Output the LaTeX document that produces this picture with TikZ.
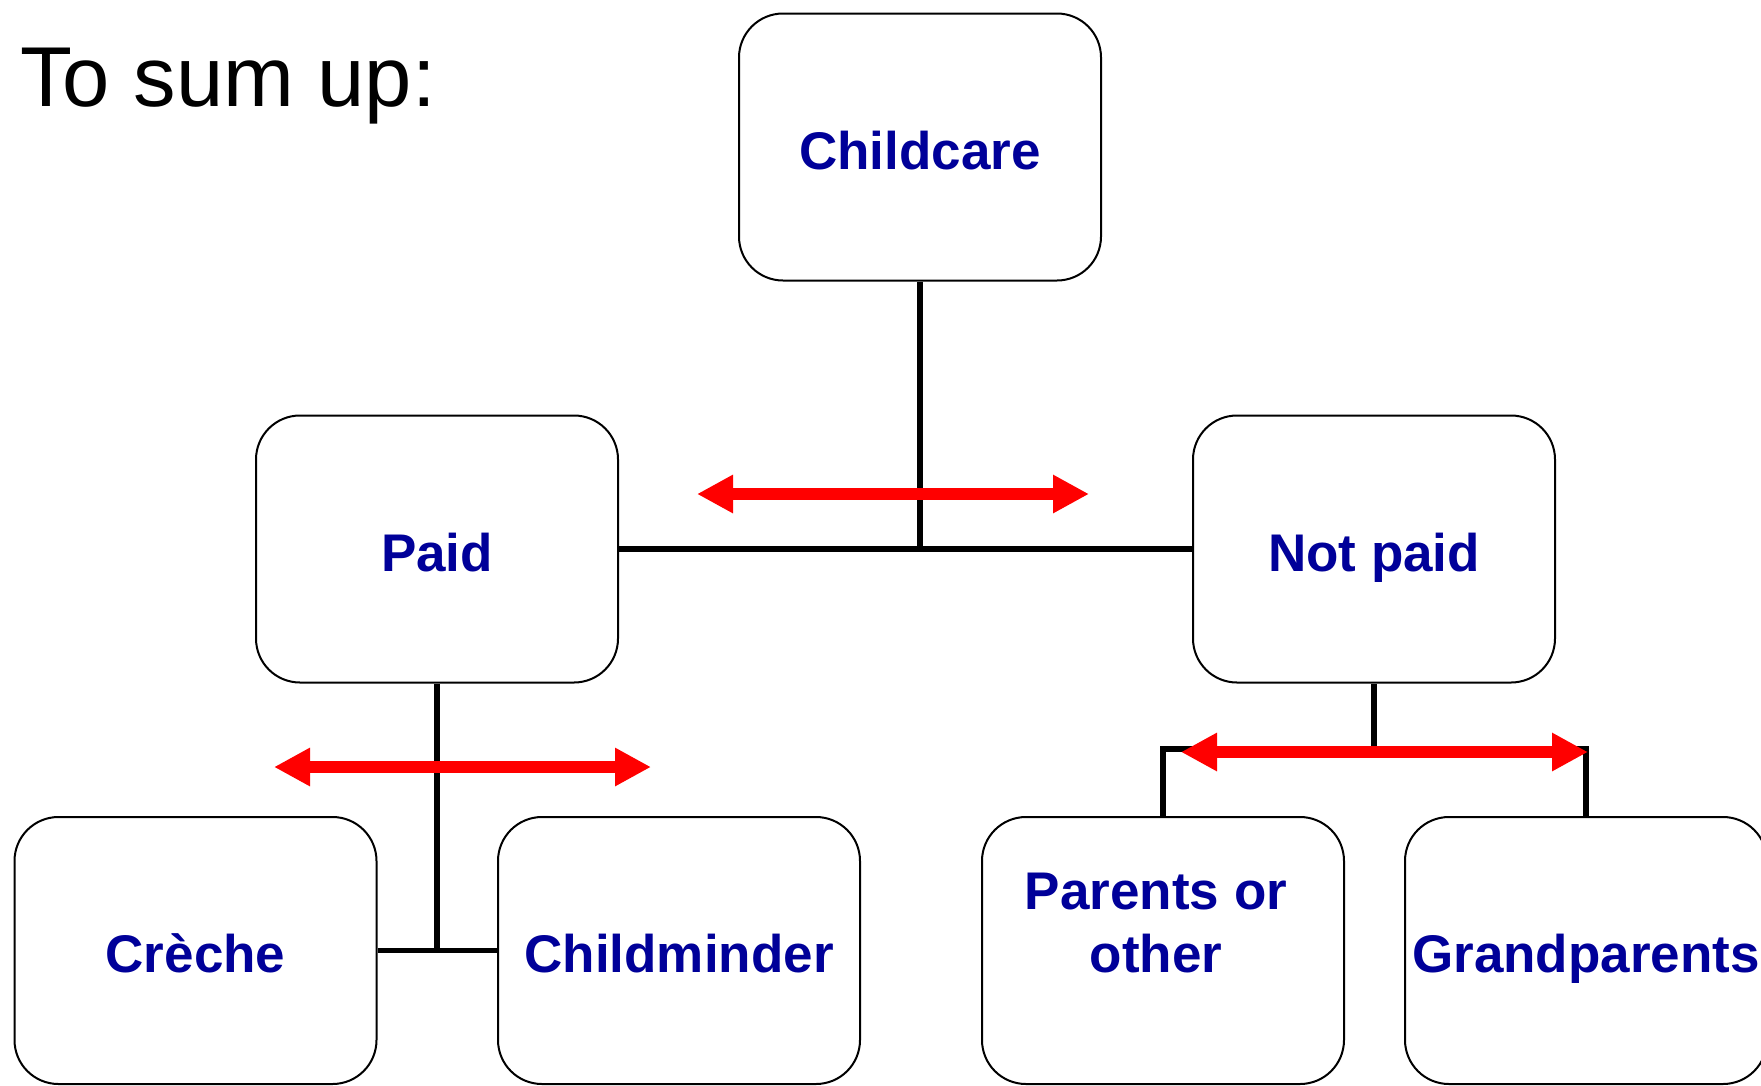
\documentclass[tikz,border=0pt]{standalone}
\usepackage{fontspec}
\setmainfont{Liberation Sans}
\usetikzlibrary{arrows.meta}
\definecolor{boxblue}{RGB}{0,0,153}
\definecolor{arrowred}{RGB}{255,0,0}
\tikzset{
  box/.style={draw=black, line width=2pt, rounded corners=44pt, fill=white,
    minimum width=362pt, minimum height=267pt, inner sep=0pt,
    text=boxblue, font=\bfseries\fontsize{53}{63}\selectfont,
    text height=44pt, text depth=0pt},
  conn/.style={draw=black, line width=5.5pt},
  redarrow/.style={draw=arrowred, line width=11.5pt,
    {Triangle[length=36pt,width=36pt]}-{Triangle[length=36pt,width=36pt]}},
}
\begin{document}
\begin{tikzpicture}[x=1pt,y=-1pt]
\useasboundingbox (0,0) rectangle (1761,1085);
\fill[white] (0,0) rectangle (1761,1085);
\node[anchor=base west, inner sep=0pt, font=\fontsize{85}{100}\selectfont] (title) at (20,106) {To sum up:};

% boxes
\node[box] (childcare) at (920,147) {Childcare};
\node[box] (paid) at (437,549) {Paid};
\node[box] (notpaid) at (1374,549) {Not paid};
\node[box] (creche) at (195.5,950.5) {Crèche};
\node[box] (childminder) at (679,950.5) {Childminder};
\node[box, text height=0pt, text depth=82pt] (parents) at (1163,950.5)
  {\begin{tabular}[t]{@{}c@{\hspace{14pt}}}Parents or\\other\end{tabular}};
\node[box] (grandparents) at (1586,950.5) {Grandparents};

% connectors
\coordinate (j1) at (920,549);
\coordinate (j2) at (437,951);
\coordinate (j3) at (1374,749);
\draw[conn] (childcare.south) -- (j1);
\draw[conn] (paid.east) -- (notpaid.west);
\draw[conn] (paid.south) -- (j2);
\draw[conn] (creche.east) -- (childminder.west);
\draw[conn] (notpaid.south) -- (j3);
\draw[conn] (parents.north) |- (j3) -| (grandparents.north);

% red double arrows
\coordinate (a1l) at (697,494);
\coordinate (a1r) at (1089,494);
\coordinate (a2l) at (274,767);
\coordinate (a2r) at (651,767);
\coordinate (a3l) at (1181,752);
\coordinate (a3r) at (1588,752);
\draw[redarrow] (a1l) -- (a1r);
\draw[redarrow] (a2l) -- (a2r);
\draw[redarrow] (a3l) -- (a3r);
\end{tikzpicture}
\end{document}
